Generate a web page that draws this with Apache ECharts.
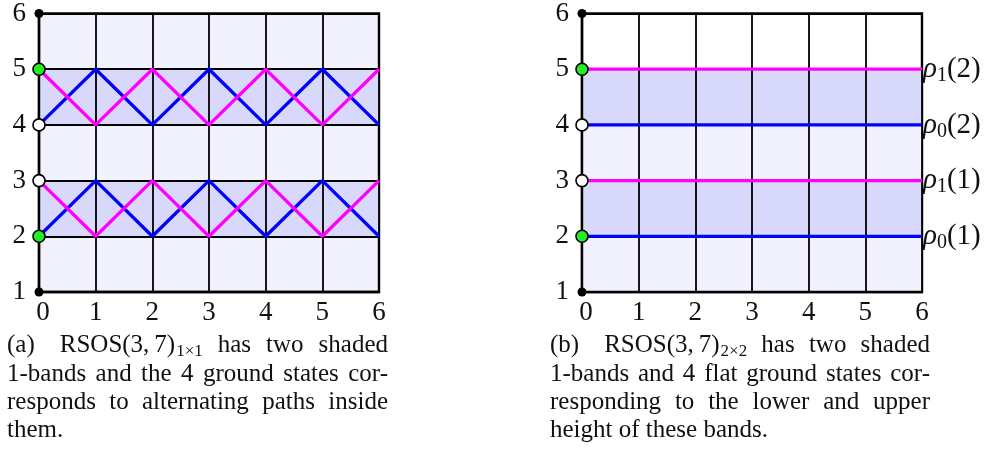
<!DOCTYPE html>
<html><head><meta charset="utf-8">
<script src="https://cdn.jsdelivr.net/npm/echarts@6/dist/echarts.min.js"></script>
<style>html,body{margin:0;padding:0;background:#fff}#c{width:990px;height:451px}</style>
</head><body><div id="c"></div>
<script>
// ---------- data ----------
const xTicks = [0, 1, 2, 3, 4, 5, 6];
const yMin = 1, yMax = 6;
// panel (a): alternating paths
const bluePathLower   = [2, 3, 2, 3, 2, 3, 2];
const magentaPathLower= [3, 2, 3, 2, 3, 2, 3];
const bluePathUpper   = [4, 5, 4, 5, 4, 5, 4];
const magentaPathUpper= [5, 4, 5, 4, 5, 4, 5];
// shaded 1-bands
const bands = [[2, 3], [4, 5]];
const lightRowsB = [[1, 2], [3, 4]];
// panel (b): flat ground states
const flatBlue = [2, 4];
const flatMagenta = [3, 5];
const flatLabels = {2: ['0', '(1)'], 3: ['1', '(1)'], 4: ['0', '(2)'], 5: ['1', '(2)']};
// dots on the left axis
const dotsBlack = [6, 1];
const dotsGreen = [5, 2];
const dotsWhite = [4, 3];
// captions
const captionA = [
  '(a)\u2003RSOS(3,\u20097)_1×1 has two shaded',
  '1-bands and the 4 ground states cor-',
  'responds to alternating paths inside',
  'them.'
];
const captionB = [
  '(b)\u2003RSOS(3,\u20097)_2×2 has two shaded',
  '1-bands and 4 flat ground states cor-',
  'responding to the lower and upper',
  'height of these bands.'
];

// ---------- style ----------
const BLUE = '#0000ff', MAG = '#ff00ff', GREEN = '#22ee22';
const LIGHT = '#f2f2fe', BAND = '#d8d8fb';
const SERIF = "'Liberation Serif', 'Times New Roman', serif";
const TICK_FS = 27;
const grids = [
  {left: 39, top: 8, width: 340, height: 284},
  {left: 582, top: 8, width: 340, height: 284}
];

function axisPair(i, bg) {
  return {
    grid: Object.assign({show: true, backgroundColor: bg, borderColor: '#000', borderWidth: 2.4}, grids[i]),
    xAxis: {
      gridIndex: i, type: 'value', min: 0, max: 6, interval: 1, z: 3,
      axisLine: {show: true, lineStyle: {color: '#000', width: 2.4}},
      axisTick: {show: false},
      splitLine: {show: true, lineStyle: {color: '#000', width: 1.8}},
      axisLabel: {
        color: '#111', fontFamily: SERIF, fontSize: TICK_FS, margin: 7,
        formatter: v => v === 0 ? '{z|0}' : String(v),
        rich: {z: {fontFamily: SERIF, fontSize: TICK_FS, color: '#111', padding: [0, 0, 0, 8]}}
      }
    },
    yAxis: {
      gridIndex: i, type: 'value', min: yMin, max: yMax, interval: 1, z: 3,
      axisLine: {show: true, lineStyle: {color: '#000', width: 2.4}},
      axisTick: {show: false},
      splitLine: {show: true, lineStyle: {color: '#000', width: 1.8}},
      axisLabel: {color: '#111', fontFamily: SERIF, fontSize: TICK_FS, margin: 13}
    }
  };
}
const pa = axisPair(0, LIGHT), pb = axisPair(1, '#ffffff');

const series = [];
function pathSeries(i, ys, color) {
  series.push({
    type: 'line', xAxisIndex: i, yAxisIndex: i, z: 5, silent: true,
    data: xTicks.map((x, k) => [x, ys[k]]),
    symbol: 'none', lineStyle: {color, width: 3.3}
  });
}
function areaSeries(i, rows, color) {
  series.push({
    type: 'line', xAxisIndex: i, yAxisIndex: i, z: 1, data: [], silent: true,
    markArea: {silent: true, itemStyle: {color, borderWidth: 0},
      data: rows.map(r => [{yAxis: r[0]}, {yAxis: r[1]}])}
  });
}
function dotSeries(i, ys, color, size) {
  series.push({
    type: 'scatter', xAxisIndex: i, yAxisIndex: i, z: 8, silent: true,
    data: ys.map(y => [0, y]), symbol: 'circle', symbolSize: size,
    itemStyle: {color, opacity: 1, borderColor: '#000', borderWidth: color === '#000' ? 0 : 1.6}
  });
}
// panel (a)
areaSeries(0, bands, BAND);
pathSeries(0, bluePathLower, BLUE);
pathSeries(0, bluePathUpper, BLUE);
pathSeries(0, magentaPathLower, MAG);
pathSeries(0, magentaPathUpper, MAG);
// panel (b)
areaSeries(1, lightRowsB, LIGHT);
areaSeries(1, bands, BAND);
function flatSeries(h, color) {
  const lab = flatLabels[h];
  series.push({
    type: 'line', xAxisIndex: 1, yAxisIndex: 1, z: 5, silent: true,
    data: xTicks.map(x => [x, h]), symbol: 'none', lineStyle: {color, width: 3.3},
    endLabel: {
      show: true, distance: 1,
      formatter: () => '{r|ρ}{s|' + lab[0] + '}{p|' + lab[1] + '}',
      rich: {
        r: {fontFamily: SERIF, fontStyle: 'italic', fontSize: 29, color: '#111'},
        s: {fontFamily: SERIF, fontSize: 20, color: '#111', padding: [13, 0, 0, 0]},
        p: {fontFamily: SERIF, fontSize: 29, color: '#111'}
      }
    }
  });
}
flatBlue.forEach(h => flatSeries(h, BLUE));
flatMagenta.forEach(h => flatSeries(h, MAG));
dotSeries(0, dotsBlack, '#000', 9); dotSeries(1, dotsBlack, '#000', 9);
dotSeries(0, dotsGreen, GREEN, 12); dotSeries(1, dotsGreen, GREEN, 12);
dotSeries(0, dotsWhite, '#ffffff', 12); dotSeries(1, dotsWhite, '#ffffff', 12);

// ---------- captions (justified) ----------
const CAP_FS = 25, SUB_FS = 17;
const ctx = document.createElement('canvas').getContext('2d');
function w(t, fs) { ctx.font = fs + 'px ' + SERIF; return ctx.measureText(t).width; }
function captionGraphics(lines, x0, x1, yMids) {
  const els = [];
  lines.forEach((line, li) => {
    const words = line.split(' ');
    const parts = words.map(wd => {
      const [base, sub] = wd.split('_');
      const bw = w(base, CAP_FS), sw = sub ? w(sub, SUB_FS) + 1 : 0;
      return {base, sub, bw, width: bw + sw};
    });
    const total = parts.reduce((s, p) => s + p.width, 0);
    const last = li === lines.length - 1;
    const gap = last ? w(' ', CAP_FS) : (x1 - x0 - total) / (parts.length - 1);
    let x = x0;
    parts.forEach(p => {
      els.push({type: 'text', x, y: yMids[li], silent: true,
        style: {text: p.base, font: CAP_FS + 'px ' + SERIF, fill: '#111', verticalAlign: 'middle', align: 'left'}});
      if (p.sub) {
        els.push({type: 'text', x: x + p.bw + 1, y: yMids[li] + 7, silent: true,
          style: {text: p.sub, font: SUB_FS + 'px ' + SERIF, fill: '#111', verticalAlign: 'middle', align: 'left'}});
      }
      x += p.width + gap;
    });
  });
  return els;
}
const capMids = [345, 374, 402, 430];
const graphic = captionGraphics(captionA, 7, 388, capMids).concat(captionGraphics(captionB, 550, 930, capMids));

const chart = echarts.init(document.getElementById('c'), null, {renderer: 'canvas'});
chart.setOption({
  animation: false,
  grid: [pa.grid, pb.grid],
  xAxis: [pa.xAxis, pb.xAxis],
  yAxis: [pa.yAxis, pb.yAxis],
  series,
  graphic
});
</script></body></html>
